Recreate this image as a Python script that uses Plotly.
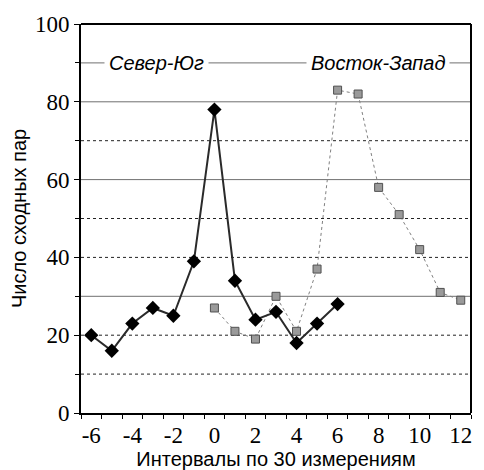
import plotly.graph_objects as go

sn_x = [-6, -5, -4, -3, -2, -1, 0, 1, 2, 3, 4, 5, 6]
sn_y = [20, 16, 23, 27, 25, 39, 78, 34, 24, 26, 18, 23, 28]
ew_x = [0, 1, 2, 3, 4, 5, 6, 7, 8, 9, 10, 11, 12]
ew_y = [27, 21, 19, 30, 21, 37, 83, 82, 58, 51, 42, 31, 29]
x_ticks = [-6, -4, -2, 0, 2, 4, 6, 8, 10, 12]
x_tick_text = ["-6", "-4", "-2", "0", "2", "4", "6", "8", "10", "12"]
y_ticks = [0, 20, 40, 60, 80, 100]
solid_grid = [30, 60, 80, 90]
dotted_grid = [10, 20, 40, 50, 70]

fig = go.Figure()
fig.add_trace(go.Scatter(
    x=ew_x, y=ew_y, mode="lines+markers", name="Восток-Запад",
    line=dict(color="#808080", width=1, dash="dot"),
    marker=dict(symbol="square", size=8, color="#9a9a9a",
                line=dict(color="#505050", width=1)),
))
fig.add_trace(go.Scatter(
    x=sn_x, y=sn_y, mode="lines+markers", name="Север-Юг",
    line=dict(color="#2a2a2a", width=2),
    marker=dict(symbol="diamond", size=11, color="black"),
))

shapes = []
for g in solid_grid:
    shapes.append(dict(type="line", xref="paper", x0=0, x1=1, yref="y", y0=g, y1=g,
                       line=dict(color="#707070", width=1), layer="below"))
for g in dotted_grid:
    shapes.append(dict(type="line", xref="paper", x0=0, x1=1, yref="y", y0=g, y1=g,
                       line=dict(color="#222222", width=1, dash="dot"), layer="below"))
shapes.append(dict(type="line", xref="paper", x0=0, x1=1, yref="paper", y0=1, y1=1,
                   line=dict(color="black", width=2)))
shapes.append(dict(type="line", xref="paper", x0=1, x1=1, yref="paper", y0=0, y1=1,
                   line=dict(color="black", width=2)))

fig.update_layout(
    width=476, height=462,
    margin=dict(l=73, r=13, t=16, b=57),
    plot_bgcolor="white", paper_bgcolor="white",
    showlegend=False,
    shapes=shapes,
    annotations=[
        dict(text="<i>Север-Юг</i>", xref="paper", x=0.194, yref="y", y=90,
             xanchor="center", yanchor="middle",
             showarrow=False, bgcolor="white", borderpad=4,
             font=dict(family="Liberation Sans, Arial", size=20, color="black")),
        dict(text="<i>Восток-Запад</i>", xref="paper", x=0.762, yref="y", y=90,
             xanchor="center", yanchor="middle",
             showarrow=False, bgcolor="white", borderpad=4,
             font=dict(family="Liberation Sans, Arial", size=20, color="black")),
    ],
)
fig.update_xaxes(
    range=[-6.5, 12.5], tickvals=x_ticks, ticktext=x_tick_text, ticks="",
    automargin=False,
    showline=True, linecolor="black", linewidth=2, showgrid=False, zeroline=False,
    minor=dict(tick0=-6.5, dtick=1, ticks="outside", ticklen=4, tickcolor="black", showgrid=False),
    tickfont=dict(family="Liberation Serif, Times New Roman", size=23, color="black"),
    title=dict(text="Интервалы по 30 измерениям", standoff=4,
               font=dict(family="Liberation Sans, Arial", size=20, color="black")),
)
fig.update_yaxes(
    range=[0, 100], tickvals=y_ticks, ticks="outside", ticklen=5, tickcolor="black",
    automargin=False,
    showline=True, linecolor="black", linewidth=2, showgrid=False, zeroline=False,
    minor=dict(dtick=10, ticks="outside", ticklen=4, tickcolor="black", showgrid=False),
    tickfont=dict(family="Liberation Serif, Times New Roman", size=23, color="black"),
    title=dict(text="Число сходных пар", standoff=3,
               font=dict(family="Liberation Sans, Arial", size=20, color="black")),
)
fig.write_html("out.html")
